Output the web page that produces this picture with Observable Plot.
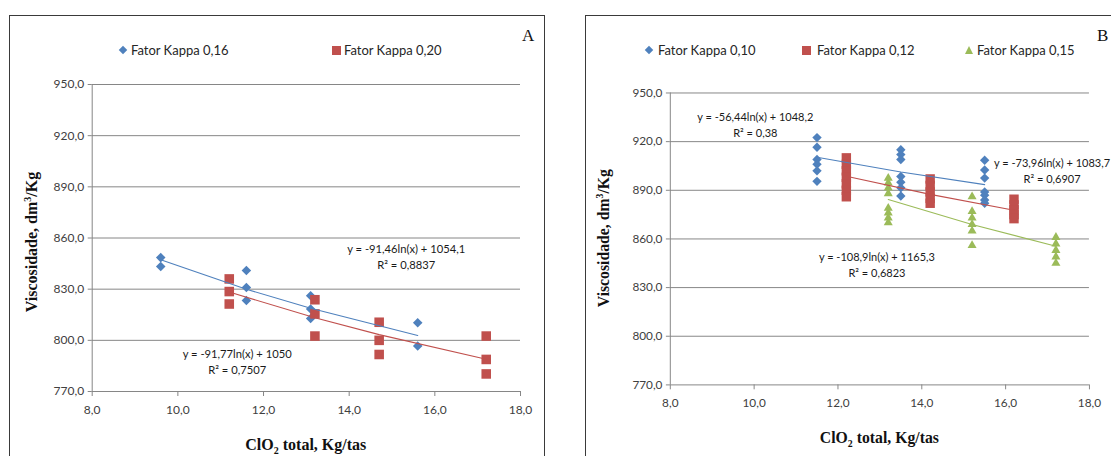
<!DOCTYPE html>
<html><head><meta charset="utf-8">
<script src="https://cdn.jsdelivr.net/npm/d3@7"></script>
<script src="https://cdn.jsdelivr.net/npm/@observablehq/plot@0.6"></script>
<style>
html,body{margin:0;padding:0;width:1111px;height:456px;overflow:hidden;background:#fff;}
.panel{position:absolute;border:1px solid #3a3a3a;box-sizing:border-box;}
.chart{position:absolute;top:0;}
.lt{position:absolute;font:13px Lato, sans-serif;color:#262626;line-height:16px;white-space:nowrap;}
.mk{position:absolute;}
.letter{position:absolute;font:17px "Liberation Serif", serif;color:#111;line-height:20px;}
</style></head><body>
<div class="panel" style="left:9px;top:15px;width:536px;height:470px"></div>
<div class="panel" style="left:585px;top:15px;width:600px;height:470px"></div>
<div id="left" class="chart" style="left:0"></div>
<div id="right" class="chart" style="left:560px"></div>
<script>
// ---------- data ----------
const xTicks = [8, 10, 12, 14, 16, 18];
const yTicks = [770, 800, 830, 860, 890, 920, 950];

// Panel A
const legendA = ["Fator Kappa 0,16", "Fator Kappa 0,20"];
const aK016X = [9.6, 9.6, 11.6, 11.6, 11.6, 13.1, 13.1, 13.1, 15.6, 15.6];
const aK016Y = [848.5, 843.3, 841.0, 831.0, 823.3, 826.1, 818.4, 812.8, 810.3, 796.7];
const aK020X = [11.2, 11.2, 11.2, 13.2, 13.2, 13.2, 14.7, 14.7, 14.7, 17.2, 17.2, 17.2];
const aK020Y = [836.0, 828.6, 821.3, 823.8, 815.5, 802.5, 810.6, 800.0, 791.7, 802.5, 788.8, 780.3];
const aFit016 = [-91.46, 1054.1];
const aFit020 = [-91.77, 1050];
const aEq016 = "y = -91,46ln(x) + 1054,1\nR² = 0,8837";
const aEq020 = "y = -91,77ln(x) + 1050\nR² = 0,7507";

// Panel B
const legendB = ["Fator Kappa 0,10", "Fator Kappa 0,12", "Fator Kappa 0,15"];
const bK010X = [11.5, 11.5, 11.5, 11.5, 11.5, 11.5, 13.5, 13.5, 13.5, 13.5, 13.5, 13.5, 13.5, 15.5, 15.5, 15.5, 15.5, 15.5, 15.5, 15.5];
const bK010Y = [922.5, 916.5, 909.0, 906.0, 902.0, 895.5, 915.0, 912.0, 909.0, 898.5, 895.0, 891.5, 886.5, 908.5, 902.5, 897.5, 889.0, 887.0, 884.0, 882.0];
const bK012X = [12.2, 12.2, 12.2, 12.2, 12.2, 12.2, 12.2, 14.2, 14.2, 14.2, 14.2, 14.2, 16.2, 16.2, 16.2, 16.2, 16.2];
const bK012Y = [910, 906, 902, 898, 894, 890, 886, 897, 893, 889, 885, 882, 884.5, 881, 878, 875, 872.5];
const bK015X = [13.2, 13.2, 13.2, 13.2, 13.2, 13.2, 13.2, 13.2, 15.2, 15.2, 15.2, 15.2, 15.2, 15.2, 17.2, 17.2, 17.2, 17.2, 17.2];
const bK015Y = [897.5, 894.5, 891.5, 888, 879, 876, 873, 870, 886, 877, 873, 869, 865, 856, 861, 857, 853, 849, 845];
const bFit010 = [-56.44, 1048.2];
const bFit012 = [-73.96, 1083.7];
const bFit015 = [-108.9, 1165.3];
const bEq010 = "y = -56,44ln(x) + 1048,2\nR² = 0,38";
const bEq012 = "y = -73,96ln(x) + 1083,7\nR² = 0,6907";
const bEq015 = "y = -108,9ln(x) + 1165,3\nR² = 0,6823";

// ---------- styles ----------
const BLUE = "#4F81BD", RED = "#C0504D", GREEN = "#9BBB59";
const GRID = "#868686", TXT = "#404040";
const fmt = d => d.toFixed(1).replace(".", ",");

function pts(X, Y) { return X.map((x, i) => ({x, y: Y[i]})); }
function fit(X, coef) {
  const ux = Array.from(new Set(X)).sort((a, b) => a - b);
  return ux.map(x => ({x, y: coef[0] * Math.log(x) + coef[1]}));
}
const markStyle = {
  diamond: {symbol: "diamond2", r: 4.3},
  square: {symbol: "square", r: 5.4},
  triangle: {symbol: "triangle", r: 3.4}
};

function panel({width, ml, mr, mt, mb, series, notes}) {
  const marks = [
    Plot.gridY({ticks: yTicks, stroke: GRID, strokeOpacity: 1}),
    Plot.ruleX([xTicks[0]], {stroke: GRID}),
    Plot.axisY({ticks: yTicks, tickFormat: fmt, tickSize: 4, tickPadding: 4, stroke: GRID, fill: TXT, label: null, fontSize: 12}),
    Plot.axisX({ticks: xTicks, tickFormat: fmt, tickSize: 5, tickPadding: 9, stroke: GRID, fill: TXT, label: null, fontSize: 12})
  ];
  for (const s of series) {
    marks.push(Plot.dot(pts(s.X, s.Y), {x: "x", y: "y", ...markStyle[s.shape], fill: s.color, stroke: "none"}));
  }
  for (const s of series) {
    marks.push(Plot.line(fit(s.X, s.coef), {x: "x", y: "y", stroke: s.color, strokeWidth: 1.1}));
  }
  for (const n of notes) {
    marks.push(Plot.text([n.text], {text: d => d, frameAnchor: "top-left", dx: n.dx, dy: n.dy,
      textAnchor: "middle", lineAnchor: "middle", lineHeight: 1.45, fontSize: 11.2, fill: "#1a1a1a"}));
  }
  return Plot.plot({
    width, height: 456,
    marginLeft: ml, marginRight: mr, marginTop: mt, marginBottom: mb,
    style: {fontFamily: "Lato, sans-serif", fontSize: "12px", color: TXT, background: "transparent", overflow: "visible"},
    x: {domain: [xTicks[0], xTicks[xTicks.length - 1]], label: null},
    y: {domain: [yTicks[0], yTicks[yTicks.length - 1]], label: null},
    marks
  });
}

function titles(svg, yx, yy, xx, xy) {
  const s = d3.select(svg);
  const yt = s.append("text")
    .attr("transform", `translate(${yx},${yy}) rotate(-90)`)
    .attr("text-anchor", "middle")
    .style("font", "bold 16px 'Liberation Serif', serif").attr("fill", "#111");
  yt.append("tspan").text("Viscosidade, dm");
  yt.append("tspan").attr("dy", -6).style("font-size", "10px").text("3");
  yt.append("tspan").attr("dy", 6).text("/Kg");
  const xt = s.append("text")
    .attr("x", xx).attr("y", xy)
    .attr("text-anchor", "middle")
    .style("font", "bold 16px 'Liberation Serif', serif").attr("fill", "#111");
  xt.append("tspan").text("ClO");
  xt.append("tspan").attr("dy", 4).style("font-size", "10px").text("2");
  xt.append("tspan").attr("dy", -4).text(" total, Kg/tas");
}

// Panel A
const svgA = panel({
  width: 560, ml: 91.7, mr: 40, mt: 84, mb: 65,
  series: [
    {X: aK016X, Y: aK016Y, coef: aFit016, color: BLUE, shape: "diamond"},
    {X: aK020X, Y: aK020Y, coef: aFit020, color: RED, shape: "square"}
  ],
  notes: [
    {text: aEq016, dx: 314, dy: 171},
    {text: aEq020, dx: 145, dy: 276}
  ]
});
document.getElementById("left").appendChild(svgA);
titles(svgA, 37, 242, 305.8, 450);

// Panel B
const svgB = panel({
  width: 560, ml: 111.6, mr: 22.4, mt: 94, mb: 65.3,
  series: [
    {X: bK010X, Y: bK010Y, coef: bFit010, color: BLUE, shape: "diamond"},
    {X: bK012X, Y: bK012Y, coef: bFit012, color: RED, shape: "square"},
    {X: bK015X, Y: bK015Y, coef: bFit015, color: GREEN, shape: "triangle"}
  ],
  notes: [
    {text: bEq010, dx: 86.4, dy: 31},
    {text: bEq012, dx: 388, dy: 77.7},
    {text: bEq015, dx: 210, dy: 173.5}
  ]
});
document.getElementById("right").appendChild(svgB);
titles(svgB, 50, 242, 324.6, 450);

// Legends (HTML)
function marker(shape, color, cx, cy) {
  const m = document.createElement("div");
  m.className = "mk";
  if (shape === "diamond") {
    Object.assign(m.style, {left: (cx - 3) + "px", top: (cy - 3) + "px", width: "6px", height: "6px", background: color, transform: "rotate(45deg)"});
  } else if (shape === "square") {
    Object.assign(m.style, {left: (cx - 4.5) + "px", top: (cy - 4.5) + "px", width: "9px", height: "9px", background: color});
  } else {
    Object.assign(m.style, {left: (cx - 4.5) + "px", top: (cy - 4.5) + "px", width: "0", height: "0",
      borderLeft: "4.5px solid transparent", borderRight: "4.5px solid transparent", borderBottom: "8px solid " + color});
  }
  document.body.appendChild(m);
}
function label(text, x, cy) {
  const t = document.createElement("div");
  t.className = "lt"; t.textContent = text;
  t.style.left = x + "px"; t.style.top = (cy - 8) + "px";
  document.body.appendChild(t);
}
const shapes = ["diamond", "square", "triangle"], colors = [BLUE, RED, GREEN];
const legAPos = [[123, 131], [336, 344]];
legendA.forEach((t, i) => { marker(shapes[i], colors[i], legAPos[i][0], 50); label(t, legAPos[i][1], 50); });
const legBPos = [[649, 658], [806, 817], [969, 977]];
legendB.forEach((t, i) => { marker(shapes[i], colors[i], legBPos[i][0], 50); label(t, legBPos[i][1], 50); });

function letter(ch, x, y) {
  const d = document.createElement("div");
  d.className = "letter"; d.textContent = ch;
  d.style.left = x + "px"; d.style.top = y + "px";
  document.body.appendChild(d);
}
letter("A", 522, 26);
letter("B", 1097, 26);
</script>
</body></html>
